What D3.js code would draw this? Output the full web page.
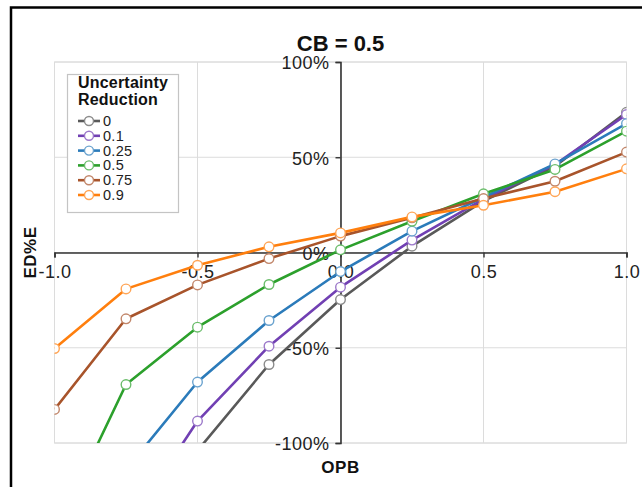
<!DOCTYPE html>
<html>
<head>
<meta charset="utf-8">
<script src="https://cdn.jsdelivr.net/npm/d3@7"></script>
<style>
  html, body { margin: 0; padding: 0; background: #fff; }
  svg { display: block; font-family: "Liberation Sans", Arial, sans-serif; }
</style>
</head>
<body>
<svg id="chart" width="642" height="487"></svg>
<script>
// OPB values along the x axis
const opb = [-1, -0.75, -0.5, -0.25, 0, 0.25, 0.5, 0.75, 1];

// Uncertainty reduction levels (legend entries)
const reductions = ["0", "0.1", "0.25", "0.5", "0.75", "0.9"];

// ED%E for each uncertainty reduction level, in percent
const edeR0   = [-230, -165, -104, -58.8, -24.7, 3.3, 27.0, 45.3, 73.6];
const edeR01  = [-205, -145, -88.5, -49.2, -18.2, 6.5, 28.0, 46.2, 72.4];
const edeR025 = [-165, -114, -68.0, -35.7, -10.0, 11.2, 29.0, 46.5, 67.7];
const edeR05  = [-148, -69.3, -39.2, -16.8, 1.4, 16.4, 30.8, 43.6, 63.7];
const edeR075 = [-82.4, -34.8, -17.0, -3.2, 8.6, 18.2, 28.3, 37.4, 52.7];
const edeR09  = [-50.4, -19.1, -6.7, 3.0, 10.3, 18.7, 24.8, 31.9, 43.9];

// Tick values and their labels
const xTicks = [-1, -0.5, 0, 0.5, 1];
const xTickLabels = ["-1.0", "-0.5", "0.0", "0.5", "1.0"];
const yTicks = [-100, -50, 0, 50, 100];
const yTickLabels = ["-100%", "-50%", "0%", "50%", "100%"];

const colors = ["#595959", "#7140b3", "#2b7bba", "#2ca02c", "#a8542b", "#ff7f0e"];
const seriesValues = [edeR0, edeR01, edeR025, edeR05, edeR075, edeR09];

const series = reductions.map((name, i) => ({
  name,
  color: colors[i],
  points: opb.map((x, j) => ({ x, y: seriesValues[i][j] }))
}));

const svg = d3.select("#chart");

// Plot area
const plotL = 54.5, plotR = 626.5, plotT = 62, plotB = 443;
const x = d3.scaleLinear().domain([-1, 1]).range([plotL, plotR]);
const y = d3.scaleLinear().domain([-100, 100]).range([plotB, plotT]);

// Outer frame (left and top edges)
svg.append("path")
  .attr("d", "M11,487 V7.5 H642")
  .attr("fill", "none")
  .attr("stroke", "#000")
  .attr("stroke-width", 2.5);

// Chart title
svg.append("text")
  .attr("x", x(0))
  .attr("y", 51)
  .attr("text-anchor", "middle")
  .attr("font-size", 22)
  .attr("font-weight", "bold")
  .attr("fill", "#111")
  .text("CB = 0.5");

// Gridlines
const grid = svg.append("g").attr("stroke", "#dcdcdc").attr("stroke-width", 1);
grid.selectAll("line.vx")
  .data(xTicks)
  .join("line")
  .attr("x1", d => x(d)).attr("x2", d => x(d))
  .attr("y1", plotT).attr("y2", plotB);
grid.selectAll("line.hy")
  .data(yTicks)
  .join("line")
  .attr("x1", plotL).attr("x2", plotR)
  .attr("y1", d => y(d)).attr("y2", d => y(d));
grid.append("rect")
  .attr("x", plotL).attr("y", plotT)
  .attr("width", plotR - plotL).attr("height", plotB - plotT)
  .attr("fill", "none");

// Axes crossing at the origin
const tickFont = 18;
const xAxis = d3.axisBottom(x)
  .tickValues(xTicks)
  .tickFormat((d, i) => xTickLabels[i])
  .tickSize(5)
  .tickPadding(8);
const yAxis = d3.axisLeft(y)
  .tickValues(yTicks)
  .tickFormat((d, i) => yTickLabels[i])
  .tickSize(5)
  .tickPadding(6);

const gx = svg.append("g")
  .attr("transform", `translate(0,${y(0)})`)
  .call(xAxis);
const gy = svg.append("g")
  .attr("transform", `translate(${x(0)},0)`)
  .call(yAxis);

[gx, gy].forEach(g => {
  g.select(".domain").attr("stroke", "#333").attr("stroke-width", 1.6);
  g.selectAll(".tick line").attr("stroke", "#333").attr("stroke-width", 1.4);
  g.selectAll(".tick text")
    .attr("fill", "#222")
    .attr("font-size", tickFont)
    .attr("letter-spacing", "0.5px")
    .attr("font-family", "'Liberation Sans', Arial, sans-serif");
});
gy.selectAll(".tick text").attr("dy", "0.38em");

// Axis titles
svg.append("text")
  .attr("x", x(0))
  .attr("y", 473)
  .attr("text-anchor", "middle")
  .attr("font-size", 17)
  .attr("font-weight", "bold")
  .attr("letter-spacing", "0.5px")
  .attr("fill", "#111")
  .text("OPB");

svg.append("text")
  .attr("transform", `translate(36,${y(0)}) rotate(-90)`)
  .attr("text-anchor", "middle")
  .attr("font-size", 17)
  .attr("font-weight", "bold")
  .attr("letter-spacing", "0.5px")
  .attr("fill", "#111")
  .text("ED%E");

// Series lines and markers, clipped to the plot area
svg.append("clipPath")
  .attr("id", "plot-clip")
  .append("rect")
  .attr("x", plotL).attr("y", plotT)
  .attr("width", plotR - plotL).attr("height", plotB - plotT);

const plot = svg.append("g").attr("clip-path", "url(#plot-clip)");
const line = d3.line().x(d => x(d.x)).y(d => y(d.y));

const sg = plot.selectAll("g.series")
  .data(series)
  .join("g")
  .attr("class", "series");

sg.append("path")
  .attr("d", d => line(d.points))
  .attr("fill", "none")
  .attr("stroke", d => d.color)
  .attr("stroke-width", 2.6)
  .attr("stroke-linejoin", "round");

sg.selectAll("circle")
  .data(d => d.points.map(p => ({ ...p, color: d.color })))
  .join("circle")
  .attr("cx", d => x(d.x))
  .attr("cy", d => y(d.y))
  .attr("r", 4.8)
  .attr("fill", "#fff")
  .attr("stroke", d => d3.interpolateRgb(d.color, "#fff")(0.3))
  .attr("stroke-width", 1.4);

// Legend
const legend = svg.append("g");
legend.append("rect")
  .attr("x", 67.5).attr("y", 74.5)
  .attr("width", 111).attr("height", 138)
  .attr("fill", "#fff")
  .attr("stroke", "#c4c4c4")
  .attr("stroke-width", 1.2);

legend.append("text")
  .attr("x", 78).attr("y", 88)
  .attr("font-size", 16)
  .attr("font-weight", "bold")
  .attr("letter-spacing", "0.2px")
  .attr("fill", "#111")
  .selectAll("tspan")
  .data(["Uncertainty", "Reduction"])
  .join("tspan")
  .attr("x", 78)
  .attr("dy", (d, i) => i === 0 ? 0 : 16.5)
  .text(d => d);

const items = legend.selectAll("g.item")
  .data(series)
  .join("g")
  .attr("class", "item")
  .attr("transform", (d, i) => `translate(0,${121 + i * 14.8})`);

items.append("line")
  .attr("x1", 78).attr("x2", 100)
  .attr("stroke", d => d.color)
  .attr("stroke-width", 2.6);
items.append("circle")
  .attr("cx", 89).attr("r", 4.5)
  .attr("fill", "#fff")
  .attr("stroke", d => d3.interpolateRgb(d.color, "#fff")(0.3))
  .attr("stroke-width", 1.4);
items.append("text")
  .attr("x", 103).attr("y", 5)
  .attr("font-size", 14.5)
  .attr("fill", "#222")
  .attr("letter-spacing", "0.3px")
  .text(d => d.name);
</script>
</body>
</html>
